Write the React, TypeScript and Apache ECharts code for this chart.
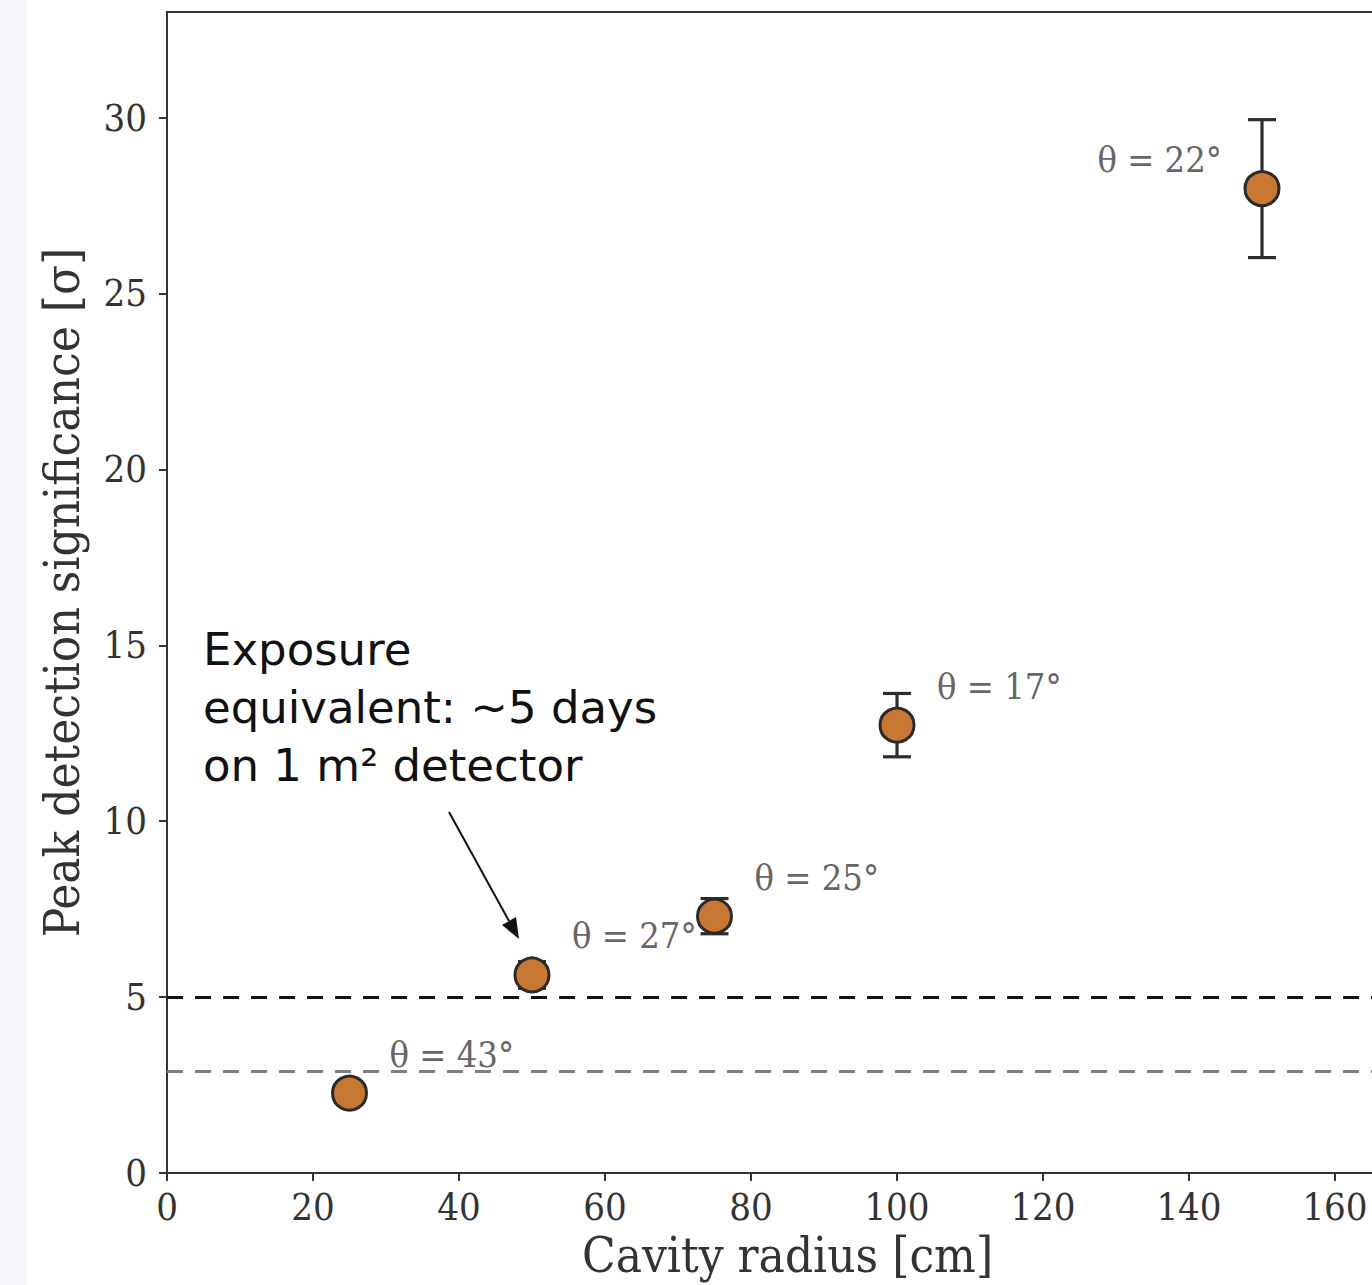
import React, { useEffect, useRef } from "react";
import * as echarts from "echarts";

const radii = [25, 50, 75, 100, 150];
const significance = [2.27, 5.63, 7.3, 12.73, 27.98];
const errors = [0, 0.38, 0.5, 0.9, 1.96];
const angleLabels = ["θ = 43°", "θ = 27°", "θ = 25°", "θ = 17°", "θ = 22°"];
const xTicks = [0, 20, 40, 60, 80, 100, 120, 140, 160];
const yTicks = [0, 5, 10, 15, 20, 25, 30];
const thresholdBlack = 5;
const thresholdGray = 2.9;
const annotationLines = ["Exposure", "equivalent: ~5 days", "on 1 m² detector"];

const SERIF = '"DejaVu Serif Condensed", "DejaVu Serif", serif';

export default function App() {
  const ref = useRef<HTMLDivElement>(null);
  useEffect(() => {
    if (!ref.current) return;
    const chart = echarts.init(ref.current, undefined, { renderer: "svg" });
    const pointData = radii.map((x, i) => {
      const right = i !== 4;
      return {
        value: [x, significance[i]],
        label: {
          show: true,
          position: "inside",
          formatter: angleLabels[i],
          align: right ? "left" : "right",
          verticalAlign: "middle",
          offset: right ? [40, -39] : [-40, -29],
          fontFamily: SERIF,
          fontSize: 36,
          color: "#666666",
        },
      };
    });
    const errData = radii.map((x, i) => [x, significance[i], errors[i]]);
    chart.setOption({
      animation: false,
      grid: {
        left: 167,
        top: 12,
        width: 1241,
        height: 1161,
        show: true,
        borderColor: "#333333",
        borderWidth: 2,
        backgroundColor: "transparent",
      },
      xAxis: {
        type: "value",
        min: 0,
        max: 170,
        interval: 20,
        name: "Cavity radius [cm]",
        nameLocation: "middle",
        nameGap: 58,
        nameTextStyle: { fontFamily: SERIF, fontSize: 49, color: "#333333" },
        axisLine: { show: true, lineStyle: { color: "#333333", width: 2 } },
        axisTick: { show: true, length: 8, lineStyle: { color: "#333333", width: 2 }, customValues: xTicks },
        axisLabel: { fontFamily: SERIF, fontSize: 38, color: "#333333", margin: 15, customValues: xTicks },
        splitLine: { show: false },
      },
      yAxis: {
        type: "value",
        min: 0,
        max: 33,
        interval: 5,
        name: "Peak detection significance [σ]",
        nameLocation: "middle",
        nameGap: 80,
        nameTextStyle: { fontFamily: SERIF, fontSize: 49, color: "#333333" },
        axisLine: { show: true, lineStyle: { color: "#333333", width: 2 } },
        axisTick: { show: true, length: 8, lineStyle: { color: "#333333", width: 2 }, customValues: yTicks },
        axisLabel: { fontFamily: SERIF, fontSize: 38, color: "#333333", margin: 20, customValues: yTicks },
        splitLine: { show: false },
      },
      series: [
        {
          type: "line",
          data: [],
          markLine: {
            silent: true,
            symbol: "none",
            label: { show: false },
            data: [
              { yAxis: thresholdBlack, lineStyle: { color: "#111111", width: 3, type: [16, 12] } },
              { yAxis: thresholdGray, lineStyle: { color: "#808080", width: 3, type: [16, 12] } },
            ],
          },
          z: 1,
        },
        {
          type: "custom",
          data: errData,
          z: 2,
          renderItem: (params: any, api: any) => {
            const x = api.value(0);
            const y = api.value(1);
            const e = api.value(2);
            if (!e) return { type: "group", children: [] };
            const top = api.coord([x, y + e]);
            const bot = api.coord([x, y - e]);
            const hw = 14;
            const style = { stroke: "#2d2d2d", lineWidth: 3.2 };
            return {
              type: "group",
              children: [
                { type: "line", shape: { x1: top[0], y1: top[1], x2: bot[0], y2: bot[1] }, style },
                { type: "line", shape: { x1: top[0] - hw, y1: top[1], x2: top[0] + hw, y2: top[1] }, style },
                { type: "line", shape: { x1: bot[0] - hw, y1: bot[1], x2: bot[0] + hw, y2: bot[1] }, style },
              ],
            };
          },
        },
        {
          type: "scatter",
          data: pointData,
          symbol: "circle",
          symbolSize: 34,
          itemStyle: { color: "#c87833", borderColor: "#2b2b2b", borderWidth: 3, opacity: 1 },
          z: 3,
        },
      ],
      graphic: [
        ...annotationLines.map((t, i) => ({
          type: "text",
          left: 203,
          top: 627 + i * 58,
          style: { text: t, fontFamily: '"DejaVu Sans", sans-serif', fontSize: 45, fill: "#111111" },
          z: 10,
        })),
        {
          type: "line",
          shape: { x1: 449, y1: 812, x2: 509, y2: 921 },
          style: { stroke: "#111111", lineWidth: 2 },
          z: 10,
        },
        {
          type: "polygon",
          shape: { points: [[519, 939], [502, 925], [516, 917]] },
          style: { fill: "#111111" },
          z: 10,
        },
      ],
    });
    return () => chart.dispose();
  }, []);
  return (
    <div style={{ position: "absolute", left: 0, top: 0, width: 1372, height: 1285, overflow: "hidden", background: "#ffffff" }}>
      <div style={{ position: "absolute", left: 0, top: 0, width: 27, height: 1285, background: "#f5f7fa" }} />
      <div ref={ref} style={{ position: "absolute", left: 0, top: 0, width: 1420, height: 1285 }} />
    </div>
  );
}
